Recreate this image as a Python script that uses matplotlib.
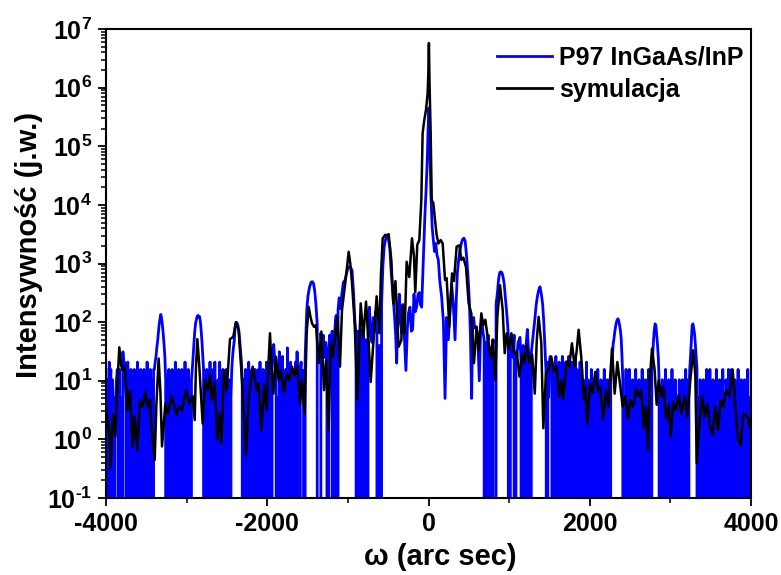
import numpy as np
import matplotlib
matplotlib.use("Agg")
import matplotlib.pyplot as plt
from matplotlib.ticker import LogLocator, MultipleLocator, FuncFormatter, NullFormatter

# ---------------- data ----------------
# Measured rocking curve, sample P97 (InGaAs/InP superlattice).
# Outer wings: detector counts on a 10 arcsec grid, one base-36 digit per point.
COUNT_UNIT = 5.2          # intensity of a single detector count
STEP = 10                 # arcsec between measured points

meas_left_start = -4000
meas_left_counts = (
    "3020413020"  # -4000
    "0112310301"  # -3900
    "0634210402"  # -3800
    "0301030104"  # -3700
    "0203010302"  # -3600
    "0401030203"  # -3500
    "34579dimqm"  # -3400  satellite
    "hc85201030"  # -3300
    "2030104020"  # -3200
    "3010302040"  # -3100
    "1030102358"  # -3000
    "dilopnoke9"  # -2900  satellite
    "5301030204"  # -2800
    "0301040102"  # -2700
    "0401030203"  # -2600
    "0102013579"  # -2500
    "fijigd9642"  # -2400  satellite
    "0203010402"  # -2300
    "0301030203"  # -2200
    "0401030204"  # -2100
    "1030405685"  # -2000
    "3201060305"  # -1900
    "0203070104"  # -1800
    "0301040603"  # -1700
    "03411"       # -1600
)

meas_right_start = 1470
meas_right_counts = (
    "041"         # 1470
    "4524030150"  # 1500
    "3040205030"  # 1600
    "4020503040"  # 1700
    "2050301040"  # 1800
    "3020104020"  # 1900
    "1030201020"  # 2000
    "3010201030"  # 2100
    "1020102358"  # 2200
    "adgjlmkhea"  # 2300  satellite
    "5201030103"  # 2400
    "0102010301"  # 2500
    "0201030102"  # 2600
    "0103010359"  # 2700
    "eihc852010"  # 2800  satellite
    "2010301020"  # 2900
    "1030102010"  # 3000
    "0201020103"  # 3100
    "0201359hif"  # 3200  satellite
    "c853010201"  # 3300
    "0201030103"  # 3400
    "0102010301"  # 3500
    "0201030102"  # 3600
    "1030103010"  # 3700
    "2010301020"  # 3800
    "1020103010"  # 3900
    "1"           # 4000
)

# Central part of the measured curve (arcsec, intensity)
meas_core_omega = [
    -1550, -1540, -1530, -1520, -1510, -1495, -1475, -1455, -1440, -1425,
    -1410, -1395, -1380, -1365, -1350, -1335, -1320, -1305, -1290, -1275,
    -1260, -1250, -1238, -1225, -1210, -1195, -1182, -1170, -1155, -1145,
    -1135, -1122, -1108, -1092, -1075, -1055, -1035, -1015, -995, -980,
    -965, -948, -930, -912, -898, -888, -876, -866, -855, -840,
    -825, -812, -798, -782, -766, -750, -733, -716, -700, -685,
    -670, -655, -640, -625, -610, -597, -582, -566, -550, -532,
    -515, -498, -480, -462, -442, -422, -407, -395, -380, -362,
    -348, -333, -318, -300, -280, -262, -247, -230, -212, -197,
    -180, -165, -147, -130, -114, -100, -85, -72, -58, -45,
    -30, -15, -5, 5, 12, 20, 30, 45, 60, 75,
    90, 105, 122, 140, 163, 185, 205, 225, 246, 265,
    287, 308, 329, 345, 358, 375, 391, 410, 425, 440,
    455, 473, 490, 506, 520, 535, 548, 560, 572, 589,
    610, 630, 645, 659, 675, 690, 700, 712, 724, 740,
    755, 768, 783, 800, 815, 826, 838, 854, 870, 884,
    896, 910, 924, 938, 955, 975, 990, 1003, 1015, 1032,
    1048, 1062, 1074, 1085, 1096, 1112, 1135, 1148, 1160, 1172,
    1185, 1197, 1210, 1226, 1242, 1259, 1275, 1292, 1308, 1321,
    1336, 1350, 1366, 1383, 1400, 1416, 1430, 1445, 1460,
]
meas_core_intensity = [
    15, 0, 25, 60, 160, 280, 400, 480, 490, 450,
    330, 190, 90, 0, 0, 65, 35, 60, 25, 45,
    20, 0, 35, 60, 40, 70, 0, 50, 100, 130,
    0, 160, 260, 170, 300, 480, 520, 700, 860, 890,
    850, 760, 320, 100, 60, 0, 70, 0, 45, 75,
    0, 60, 0, 50, 0, 120, 180, 60, 45, 120,
    70, 150, 60, 0, 40, 0, 200, 900, 1900, 2600,
    2900, 2700, 1800, 700, 300, 130, 60, 20, 120, 300,
    100, 65, 200, 60, 15, 80, 145, 180, 70, 75,
    300, 150, 180, 300, 320, 200, 180, 600, 2300, 6500,
    18000, 60000, 200000, 450000, 260000, 60000, 15000, 4300, 2500, 1600,
    2200, 1400, 1150, 500, 270, 100, 5, 120, 50, 150,
    450, 200, 50, 250, 700, 1200, 1700, 2300, 2600, 2700,
    2400, 1300, 600, 240, 60, 5, 90, 120, 80, 83,
    60, 10, 60, 120, 70, 50, 0, 45, 20, 60,
    0, 30, 25, 50, 0, 0, 200, 310, 550, 700,
    720, 700, 600, 460, 250, 120, 60, 0, 40, 50,
    25, 60, 0, 30, 26, 45, 55, 20, 0, 40,
    20, 0, 40, 75, 30, 0, 30, 50, 80, 120,
    200, 270, 350, 400, 300, 200, 100, 33, 12,
]

# Simulated curve (arcsec, log10 intensity)
sim_omega = [
    -4000, -3975, -3955, -3942, -3925, -3909, -3884, -3860, -3835, -3810,
    -3793, -3769, -3750, -3735, -3702, -3669, -3644, -3611, -3578, -3545,
    -3512, -3480, -3454, -3437, -3396, -3375, -3347, -3325, -3305, -3264,
    -3231, -3189, -3156, -3123, -3099, -3057, -3008, -2966, -2925, -2900,
    -2885, -2867, -2845, -2801, -2768, -2735, -2710, -2685, -2652, -2619,
    -2586, -2569, -2536, -2503, -2462, -2421, -2388, -2355, -2322, -2297,
    -2264, -2231, -2206, -2181, -2156, -2132, -2107, -2074, -2037, -2007,
    -1985, -1966, -1945, -1924, -1891, -1858, -1833, -1792, -1759, -1726,
    -1693, -1660, -1627, -1594, -1569, -1536, -1511, -1486, -1465, -1445,
    -1420, -1396, -1362, -1329, -1296, -1271, -1238, -1213, -1189, -1164,
    -1131, -1098, -1073, -1032, -990, -970, -949, -916, -883, -841,
    -808, -775, -742, -717, -676, -643, -610, -590, -568, -536,
    -515, -494, -461, -437, -410, -371, -337, -321, -296, -271,
    -238, -205, -180, -164, -139, -114, -89, -73, -52, -31,
    -11, -3, 5, 14, 27, 40, 60, 81, 100, 122,
    151, 176, 205, 225, 258, 292, 316, 349, 383, 407,
    432, 465, 498, 531, 564, 597, 622, 655, 680, 705,
    738, 771, 796, 829, 854, 887, 920, 945, 970, 995,
    1028, 1061, 1094, 1128, 1161, 1186, 1219, 1252, 1285, 1318,
    1343, 1366, 1399, 1424, 1457, 1490, 1523, 1556, 1589, 1622,
    1647, 1672, 1713, 1746, 1779, 1812, 1837, 1862, 1895, 1928,
    1945, 1970, 2003, 2036, 2069, 2102, 2127, 2168, 2201, 2234,
    2255, 2276, 2309, 2342, 2375, 2408, 2441, 2474, 2507, 2540,
    2573, 2606, 2639, 2672, 2697, 2722, 2747, 2772, 2805, 2830,
    2855, 2888, 2913, 2946, 2979, 3004, 3037, 3070, 3103, 3136,
    3177, 3210, 3251, 3285, 3310, 3327, 3360, 3393, 3426, 3459,
    3492, 3525, 3558, 3591, 3624, 3657, 3690, 3731, 3773, 3806,
    3839, 3872, 3905, 3938, 3963, 3988, 4000,
]
sim_log10 = [
    0.55, 0.30, 0.05, -0.47, 0.20, 0.42, 0.05, 0.90, 1.57, 1.25,
    1.18, 1.24, 0.90, 0.50, 0.84, -0.12, 0.39, -0.18, 0.67, 0.56,
    0.81, 0.55, 0.67, 0.22, -0.35, 0.60, 1.38, 0.80, -0.12, 0.61,
    0.44, 0.74, 0.59, 0.42, 0.56, 0.50, 0.84, 0.61, 0.74, 0.33,
    1.20, 1.71, 1.30, 0.27, 1.01, 0.84, 1.11, 0.67, 0.98, 0.00,
    0.44, -0.06, 1.18, 0.84, 1.71, 1.75, 2.00, 1.86, 1.18, 0.61,
    -0.27, 0.67, 0.95, 1.24, 1.07, 0.84, 0.95, 0.16, 0.93, 0.50,
    1.30, 1.81, 1.20, 0.78, 1.41, 1.01, 1.18, 0.81, 1.12, 1.01,
    1.24, 1.09, 1.26, 0.61, 1.01, 0.44, 1.81, 2.26, 2.10, 1.98,
    1.92, 1.95, 1.30, 1.84, 0.84, 1.35, 0.16, 1.64, 1.41, 1.69,
    2.09, 1.24, 2.21, 2.67, 3.20, 3.00, 2.67, 1.99, 0.67, 2.32,
    1.75, 2.35, 1.64, 0.98, 1.81, 2.44, 1.81, 2.80, 3.43, 3.49,
    3.48, 3.50, 3.06, 2.32, 2.70, 1.58, 1.69, 2.28, 1.81, 3.03,
    2.77, 3.43, 3.12, 2.51, 3.32, 3.40, 4.08, 5.22, 5.45, 5.62,
    5.90, 6.20, 6.76, 6.00, 5.22, 4.08, 4.03, 3.74, 3.50, 3.34,
    3.40, 3.34, 2.72, 2.75, 1.92, 2.83, 2.70, 3.29, 3.31, 3.06,
    3.10, 2.94, 2.32, 2.15, 1.30, 1.92, 1.52, 2.15, 1.95, 2.04,
    1.70, 1.41, 1.70, 1.01, 2.09, 2.63, 2.21, 1.47, 1.81, 1.55,
    1.81, 1.47, 1.50, 1.07, 1.45, 1.30, 1.61, 1.30, 1.45, 0.78,
    1.70, 2.09, 1.64, 0.19, 1.13, 1.20, 1.41, 1.15, 1.25, 0.73,
    1.01, 0.70, 1.33, 1.25, 1.64, 1.25, 1.50, 1.87, 1.40, 0.67,
    0.90, 0.27, 0.95, 0.80, 1.15, 0.84, 0.90, 0.36, 0.84, 0.56,
    1.10, 1.55, 0.78, 1.32, 0.95, 0.56, 0.74, 0.36, 0.67, 0.56,
    0.87, 0.74, 0.84, 0.19, 0.56, -0.18, 1.07, 1.55, 1.18, 0.59,
    1.01, 0.74, 0.90, 0.36, 0.59, 0.05, 0.64, 0.50, 0.76, 0.44,
    0.74, 0.39, 1.07, 1.52, 1.07, -0.41, 0.27, 0.74, 0.39, 0.61,
    0.22, 0.08, 0.56, 0.16, 0.67, 0.56, 0.84, 0.74, 1.19, 0.56,
    0.00, -0.10, 0.44, 0.42, 0.36, 0.20, 0.35,
]

x_ticks = [-4000, -2000, 0, 2000, 4000]
legend_labels = ["P97 InGaAs/InP", "symulacja"]
x_label = "\u03c9 (arc sec)"
y_label = "Intensywno\u015b\u0107 (j.w.)"

# ---------------- assemble measured curve ----------------
def decode(counts, start):
    vals = np.array([int(c, 36) for c in counts], dtype=float) * COUNT_UNIT
    om = start + STEP * np.arange(len(vals))
    return om, vals

om_l, in_l = decode(meas_left_counts, meas_left_start)
om_r, in_r = decode(meas_right_counts, meas_right_start)
meas_omega = np.concatenate([om_l, np.array(meas_core_omega, float), om_r])
meas_int = np.concatenate([in_l, np.array(meas_core_intensity, float), in_r])

sim_int = 10.0 ** np.array(sim_log10)

# ---------------- figure ----------------
plt.rcParams["font.family"] = ["Liberation Sans", "DejaVu Sans"]
plt.rcParams["font.weight"] = "bold"
plt.rcParams["axes.labelweight"] = "bold"
plt.rcParams["mathtext.fontset"] = "custom"
plt.rcParams["mathtext.rm"] = "Liberation Sans:bold"
plt.rcParams["mathtext.bf"] = "Liberation Sans:bold"
plt.rcParams["mathtext.default"] = "bf"


def decade_label(v, pos):
    e = int(round(np.log10(v)))
    return r"$10^{\text{%d}}$" % e


fig = plt.figure(figsize=(7.81, 5.75), dpi=100)
ax = fig.add_axes([106 / 781, 77 / 575, 645 / 781, 469 / 575])

ax.plot(meas_omega, meas_int, color="#0000ff", lw=2.0, label=legend_labels[0])
ax.plot(sim_omega, sim_int, color="black", lw=1.8, label=legend_labels[1])

ax.set_yscale("log", nonpositive="clip")
ax.set_xlim(-4000, 4000)
ax.set_ylim(1e-1, 1e7)

ax.xaxis.set_major_locator(plt.FixedLocator(x_ticks))
ax.xaxis.set_minor_locator(MultipleLocator(1000))
ax.yaxis.set_major_locator(LogLocator(base=10, numticks=20))
ax.yaxis.set_minor_locator(LogLocator(base=10, subs=np.arange(2, 10), numticks=20))
ax.yaxis.set_minor_formatter(NullFormatter())
ax.yaxis.set_major_formatter(FuncFormatter(decade_label))
ax.xaxis.set_major_formatter(FuncFormatter(lambda v, p: "%d" % v))

for s in ax.spines.values():
    s.set_linewidth(1.5)
ax.tick_params(which="major", direction="out", length=6, width=1.3, labelsize=18,
               top=False, right=False, pad=4)
ax.tick_params(which="minor", direction="out", length=3.5, width=1.1, top=False, right=False)

ax.set_xlabel(x_label, fontsize=21, fontweight="bold")
ax.set_ylabel(y_label, fontsize=21, fontweight="bold")
ax.xaxis.set_label_coords(0.518, -0.096)
ax.yaxis.set_label_coords(-0.098, 0.539)

leg = ax.legend(loc="upper left", bbox_to_anchor=(0.606, 0.964), frameon=False,
                fontsize=18, handlelength=2.2, handletextpad=0.3, labelspacing=0.32,
                borderpad=0, borderaxespad=0)
for line in leg.get_lines():
    line.set_linewidth(2.0)

fig.savefig("out.png", dpi=100)
